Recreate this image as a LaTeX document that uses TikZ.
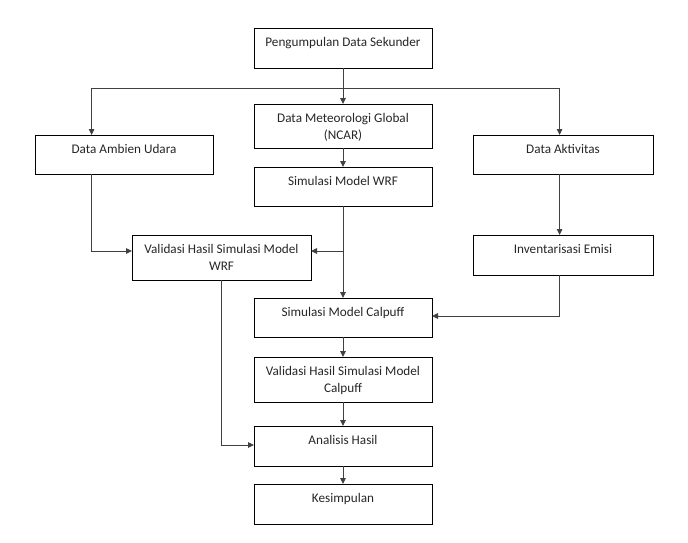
\documentclass[tikz,border=0pt]{standalone}
\usepackage{fontspec}
\setmainfont{Carlito}
\usetikzlibrary{arrows.meta}
\newcommand{\bxt}[3]{\parbox[t][#2][t]{#1}{\centering\fontsize{13.2}{17.5}\selectfont\rule{0pt}{18pt}#3}}
\begin{document}
\begin{tikzpicture}[x=1pt,y=-1pt,
  box/.style={draw=black, line width=0.9pt, inner sep=0pt, outer sep=0pt, anchor=north west, text=black!85},
  conn/.style={draw=black!75, line width=0.9pt},
  arr/.style={conn, -{Triangle[length=6pt,width=5.5pt]}}]
\useasboundingbox (0,0) rectangle (688,542);
\node[box] (p)    at (254,28)  {\bxt{178pt}{40pt}{Pengumpulan Data Sekunder}};
\node[box] (met)  at (254,104) {\bxt{178pt}{44pt}{Data Meteorologi Global\\(NCAR)}};
\node[box] (amb)  at (35,135)  {\bxt{178pt}{39pt}{Data Ambien Udara}};
\node[box] (akt)  at (473,135) {\bxt{180pt}{39pt}{Data Aktivitas}};
\node[box] (wrf)  at (254,167) {\bxt{178pt}{39pt}{Simulasi Model WRF}};
\node[box] (vwrf) at (132,235) {\bxt{179pt}{45pt}{Validasi Hasil Simulasi Model\\WRF}};
\node[box] (inv)  at (473,235) {\bxt{180pt}{40pt}{Inventarisasi Emisi}};
\node[box] (cal)  at (254,298) {\bxt{178pt}{39pt}{Simulasi Model Calpuff}};
\node[box] (vcal) at (254,357) {\bxt{178pt}{45pt}{Validasi Hasil Simulasi Model\\Calpuff}};
\node[box] (ana)  at (254,426) {\bxt{178pt}{40pt}{Analisis Hasil}};
\node[box] (kes)  at (254,484) {\bxt{178pt}{40pt}{Kesimpulan}};
% branch
\coordinate (bl) at (91.6,88);
\coordinate (brr) at (559.6,88);
\coordinate (j1) at (91.6,251);
\coordinate (j2) at (343,251);
\coordinate (j3) at (559.6,316);
\coordinate (j4) at (221,445);
\draw[arr] (p.south) -- (met.north);
\draw[conn] (bl) -- (brr);
\draw[arr] (bl) -- (bl |- amb.north);
\draw[arr] (brr) -- (brr |- akt.north);
\draw[arr] (met.south) -- (wrf.north);
\draw[arr] (bl |- amb.south) -- (j1) -- (j1 -| vwrf.west);
\draw[arr] (wrf.south) -- (cal.north);
\draw[arr] (j2) -- (j2 -| vwrf.east);
\draw[arr] (brr |- akt.south) -- (brr |- inv.north);
\draw[arr] (brr |- inv.south) -- (j3) -- (j3 -| cal.east);
\draw[arr] (j4 |- vwrf.south) -- (j4) -- (j4 -| ana.west);
\draw[arr] (cal.south) -- (vcal.north);
\draw[arr] (vcal.south) -- (ana.north);
\draw[arr] (ana.south) -- (kes.north);
\end{tikzpicture}
\end{document}
